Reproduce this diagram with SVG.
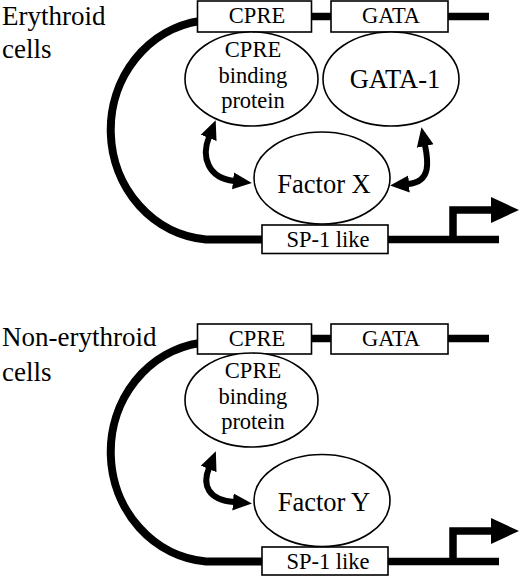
<svg xmlns="http://www.w3.org/2000/svg" width="520" height="577" viewBox="0 0 520 577" font-family="'Liberation Serif', 'DejaVu Serif', serif">
<style>
text{font-family:"Liberation Serif","DejaVu Serif",serif;fill:#000}
.box{fill:#fff;stroke:#000;stroke-width:1.6}
.ell{fill:#fff;stroke:#000;stroke-width:1.6}
.dna{fill:none;stroke:#000;stroke-width:7.5}
.loop{fill:none;stroke:#000;stroke-width:8}
.dbl{fill:none;stroke:#000;stroke-width:6;marker-start:url(#ah);marker-end:url(#ah)}
.lbl{font-size:27px}
.bx{font-size:22.5px;text-anchor:middle}
.sm{font-size:22.5px;text-anchor:middle}
.big{font-size:26.5px;text-anchor:middle}
</style>
<defs>
<marker id="ah" markerUnits="userSpaceOnUse" markerWidth="20" markerHeight="18" refX="1" refY="8.5" orient="auto-start-reverse" viewBox="0 0 20 17">
<path d="M0,0 L19,8.5 L0,17 z" fill="#000"/>
</marker>
</defs>

<text class="lbl" x="2" y="24.5">Erythroid</text>
<text class="lbl" x="2" y="58">cells</text>
<text class="lbl" x="2" y="346">Non-erythroid</text>
<text class="lbl" x="2" y="381">cells</text>

<g id="connectors">
  <path class="loop" d="M 200 21 A 104 110 0 0 0 206 239.5 L 264 239.5"/>
  <path class="dna" d="M 311 16.5 L 332 16.5"/>
  <path class="dna" d="M 447 16.5 L 489 16.5"/>
  <path class="dna" d="M 387 239.5 L 499 239.5"/>
  <path class="dna" d="M 453 243 L 453 210 L 493 210" stroke-linejoin="miter"/>
  <polygon points="491,197 519,210 491,223" fill="#000"/>
  <path class="dbl" d="M 209 137 C 201 157, 208 178, 234 181"/>
  <path class="dbl" d="M 425 145 C 428 160, 432 182, 408 184"/>
  <path class="loop" d="M 200 343 A 104 110 0 0 0 206 561.5 L 264 561.5"/>
  <path class="dna" d="M 311 338.5 L 332 338.5"/>
  <path class="dna" d="M 447 338.5 L 489 338.5"/>
  <path class="dna" d="M 387 561.5 L 499 561.5"/>
  <path class="dna" d="M 453 565 L 453 531 L 493 531" stroke-linejoin="miter"/>
  <polygon points="491,518 519,531 491,544" fill="#000"/>
  <path class="dbl" d="M 209 468 C 202 485, 208 500, 234 502"/>
</g>

<g id="cpre-box-1"><rect class="box" x="197.5" y="1" width="114" height="31"/><text class="bx" x="257" y="23">CPRE</text></g>
<g id="gata-box-1"><rect class="box" x="331" y="1" width="117" height="31"/><text class="bx" x="391" y="23">GATA</text></g>
<g id="sp1-box-1"><rect class="box" x="262" y="225" width="126" height="28.5"/><text class="sm" x="328" y="246.5">SP-1 like</text></g>
<g id="cpre-protein-1"><ellipse class="ell" cx="251.5" cy="79" rx="66.5" ry="47"/>
  <text class="sm" x="253" y="57">CPRE</text><text class="sm" x="253" y="83">binding</text><text class="sm" x="253" y="108">protein</text></g>
<g id="gata1"><ellipse class="ell" cx="391" cy="79" rx="68" ry="47"/><text class="big" x="395" y="88">GATA-1</text></g>
<g id="factor-x"><ellipse class="ell" cx="322" cy="178" rx="68" ry="46"/><text class="big" x="324" y="193">Factor X</text></g>

<g id="cpre-box-2"><rect class="box" x="197.5" y="324" width="114" height="30"/><text class="bx" x="257" y="346">CPRE</text></g>
<g id="gata-box-2"><rect class="box" x="331" y="324" width="117" height="30"/><text class="bx" x="391" y="346">GATA</text></g>
<g id="sp1-box-2"><rect class="box" x="262" y="547" width="126" height="28"/><text class="sm" x="328" y="568.5">SP-1 like</text></g>
<g id="cpre-protein-2"><ellipse class="ell" cx="251.5" cy="400" rx="66.5" ry="47"/>
  <text class="sm" x="253" y="378">CPRE</text><text class="sm" x="253" y="404">binding</text><text class="sm" x="253" y="429">protein</text></g>
<g id="factor-y"><ellipse class="ell" cx="322" cy="500.5" rx="68" ry="46"/><text class="big" x="324" y="511">Factor Y</text></g>
</svg>
